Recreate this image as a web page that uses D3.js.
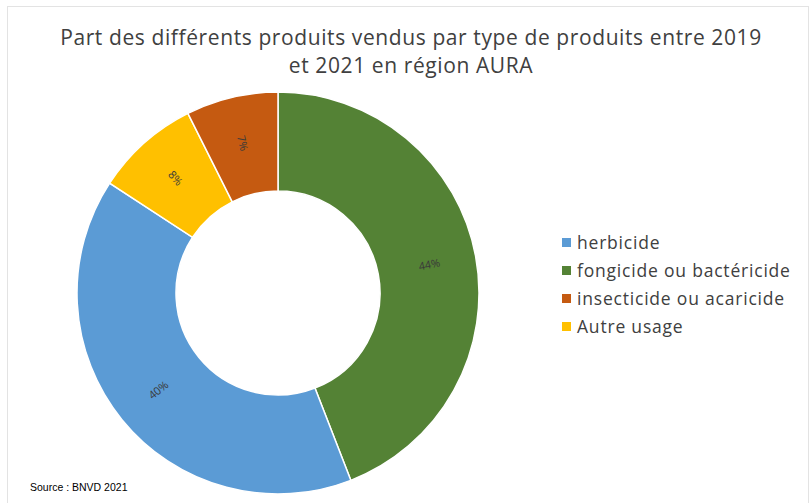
<!DOCTYPE html>
<html>
<head>
<meta charset="utf-8">
<script src="https://cdn.jsdelivr.net/npm/d3@7/dist/d3.min.js"></script>
<style>
  body { margin: 0; background: #fff; }
  svg { display: block; }
</style>
</head>
<body>
<div id="chart"></div>
<script>
var categories = ["herbicide", "fongicide ou bactéricide", "insecticide ou acaricide", "Autre usage"];
var values = [40.1, 44.1, 7.4, 8.4];
var colors = ["#5b9bd5", "#548235", "#c55a11", "#ffc000"];
// slice order around the ring, clockwise from the top
var drawOrder = [1, 0, 3, 2];
var titleLines = ["Part des différents produits vendus par type de produits entre 2019", "et 2021 en région AURA"];
var source = "Source : BNVD 2021";

var width = 812, height = 503;
var cx = 278, cy = 293, outer = 201, inner = 102;

var svg = d3.select("#chart")
    .append("svg")
    .attr("width", width)
    .attr("height", height);

svg.append("rect")
    .attr("x", 7.5).attr("y", 6.5)
    .attr("width", 801).attr("height", 510)
    .attr("fill", "#fff")
    .attr("stroke", "#e3e3e3");

svg.append("g")
    .selectAll("text")
    .data(titleLines)
  .enter().append("text")
    .attr("x", 411)
    .attr("y", function(d, i) { return 45 + i * 28; })
    .attr("text-anchor", "middle")
    .attr("font-family", "Open Sans, sans-serif")
    .attr("font-size", 21)
    .attr("letter-spacing", 0.6)
    .attr("fill", "#404040")
    .text(function(d) { return d; });

var pie = d3.pie()
    .sort(null)
    .value(function(i) { return values[i]; });

var arc = d3.arc()
    .innerRadius(inner)
    .outerRadius(outer);

var labelArc = d3.arc()
    .innerRadius(154)
    .outerRadius(154);

var g = svg.append("g")
    .attr("transform", "translate(" + cx + "," + cy + ")");

var slices = g.selectAll("g.slice")
    .data(pie(drawOrder))
  .enter().append("g")
    .attr("class", "slice");

slices.append("path")
    .attr("d", arc)
    .attr("fill", function(d) { return colors[d.data]; })
    .attr("stroke", "#fff")
    .attr("stroke-width", 1.5);

slices.append("text")
    .attr("transform", function(d) {
      var c = labelArc.centroid(d);
      var a = (d.startAngle + d.endAngle) / 2 * 180 / Math.PI;
      var rot = a < 180 ? a - 90 : a - 270;
      return "translate(" + c[0] + "," + c[1] + ") rotate(" + rot + ")";
    })
    .attr("text-anchor", "middle")
    .attr("dy", "0.35em")
    .attr("font-family", "Open Sans, sans-serif")
    .attr("font-size", 11)
    .attr("fill", "#3a3a3a")
    .text(function(d) { return Math.round(values[d.data]) + "%"; });

var legend = svg.append("g")
    .selectAll("g")
    .data(categories)
  .enter().append("g")
    .attr("transform", function(d, i) { return "translate(562," + (243 + i * 28) + ")"; });

legend.append("rect")
    .attr("x", 0).attr("y", -5)
    .attr("width", 9).attr("height", 9)
    .attr("fill", function(d, i) { return colors[i]; });

legend.append("text")
    .attr("x", 15)
    .attr("y", 0)
    .attr("dy", "0.35em")
    .attr("font-family", "Open Sans, sans-serif")
    .attr("font-size", 17.5)
    .attr("letter-spacing", 0.8)
    .attr("fill", "#404040")
    .text(function(d) { return d; });

svg.append("text")
    .attr("x", 30)
    .attr("y", 491)
    .attr("font-family", "Liberation Sans, Arial, sans-serif")
    .attr("font-size", 10.5)
    .attr("fill", "#000")
    .text(source);
</script>
</body>
</html>
